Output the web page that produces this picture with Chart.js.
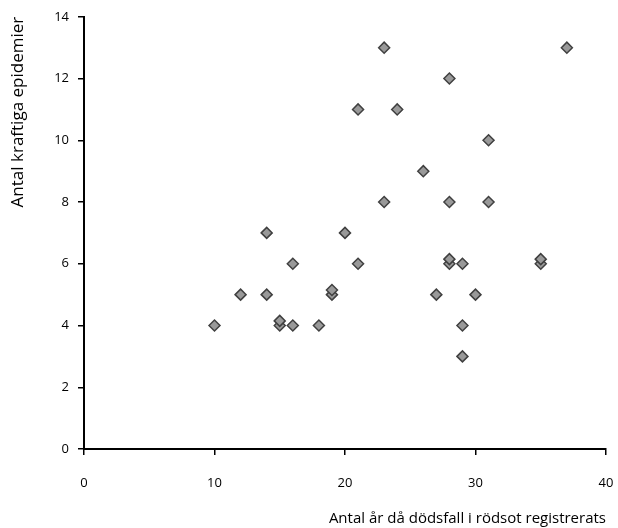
<!DOCTYPE html>
<html>
<head>
<meta charset="utf-8">
<script src="https://cdn.jsdelivr.net/npm/chart.js@4/dist/chart.umd.min.js"></script>
<style>
    html, body { margin: 0; padding: 0; background: #fff; }
    #wrap { width: 618px; height: 528px; }
</style>
</head>
<body>
<div id="wrap"><canvas id="scatterChart" width="618" height="528"></canvas></div>
<script>
// Antal år med dödsfall i rödsot (x) mot antal kraftiga epidemier (y)
const aarMedDodsfall = [10, 12, 14, 14, 15, 15, 16, 16, 18, 19, 19, 20, 21, 21, 23, 23,
    24, 26, 27, 28, 28, 28, 28, 29, 29, 29, 30, 31, 31, 35, 35, 37];
const epidemier = [4, 5, 7, 5, 4, 4.15, 6, 4, 4, 5, 5.15, 7, 11, 6, 13, 8,
    11, 9, 5, 12, 8, 6, 6.15, 6, 4, 3, 5, 10, 8, 6, 6.15, 13];

const xTicks = [0, 10, 20, 30, 40];
const yTicks = [0, 2, 4, 6, 8, 10, 12, 14];

const xTitel = 'Antal år då dödsfall i rödsot registrerats';
const yTitel = 'Antal kraftiga epidemier';

const punkter = aarMedDodsfall.map((x, i) => ({ x: x, y: epidemier[i] }));

const fontFamily = '"Open Sans", "DejaVu Sans", sans-serif';

const config = {
    type: 'scatter',
    data: {
        datasets: [{
            data: punkter,
            pointStyle: 'rectRot',
            pointRadius: 5.5,
            pointHoverRadius: 5.5,
            backgroundColor: '#999999',
            borderColor: '#404040',
            borderWidth: 1.5
        }]
    },
    options: {
        responsive: false,
        animation: false,
        layout: {
            padding: { top: 15, right: 12, bottom: 0, left: 0 }
        },
        plugins: {
            legend: { display: false },
            tooltip: { enabled: false }
        },
        scales: {
            x: {
                type: 'linear',
                min: 0,
                max: 40,
                afterBuildTicks: scale => { scale.ticks = xTicks.map(v => ({ value: v })); },
                afterFit: scale => {
                    scale.height = 79;
                    scale.paddingLeft = 0; // sonst räknas ticks.padding in den Rand
                    scale.paddingRight = 0;
                },
                border: { color: '#000', width: 2 },
                grid: { drawOnChartArea: false, drawTicks: true, tickLength: 6, color: '#000', lineWidth: 1.5 },
                ticks: { color: '#000', padding: 20, font: { family: fontFamily, size: 13 } },
                title: {
                    display: true,
                    text: xTitel,
                    align: 'end',
                    color: '#000',
                    padding: { top: 0, bottom: 0 },
                    font: { family: fontFamily, size: 15 }
                }
            },
            y: {
                type: 'linear',
                min: 0,
                max: 14,
                afterBuildTicks: scale => { scale.ticks = yTicks.map(v => ({ value: v })); },
                afterFit: scale => { scale.width = 84; },
                border: { color: '#000', width: 2 },
                grid: { drawOnChartArea: false, drawTicks: true, tickLength: 6, color: '#000', lineWidth: 1.5 },
                ticks: { color: '#000', padding: 9, font: { family: fontFamily, size: 13 } },
                title: {
                    display: true,
                    text: yTitel,
                    align: 'end',
                    color: '#000',
                    padding: { top: 8, bottom: 0 },
                    font: { family: fontFamily, size: 17 }
                }
            }
        }
    }
};

const chart = new Chart(document.getElementById('scatterChart'), config);
</script>
</body>
</html>
